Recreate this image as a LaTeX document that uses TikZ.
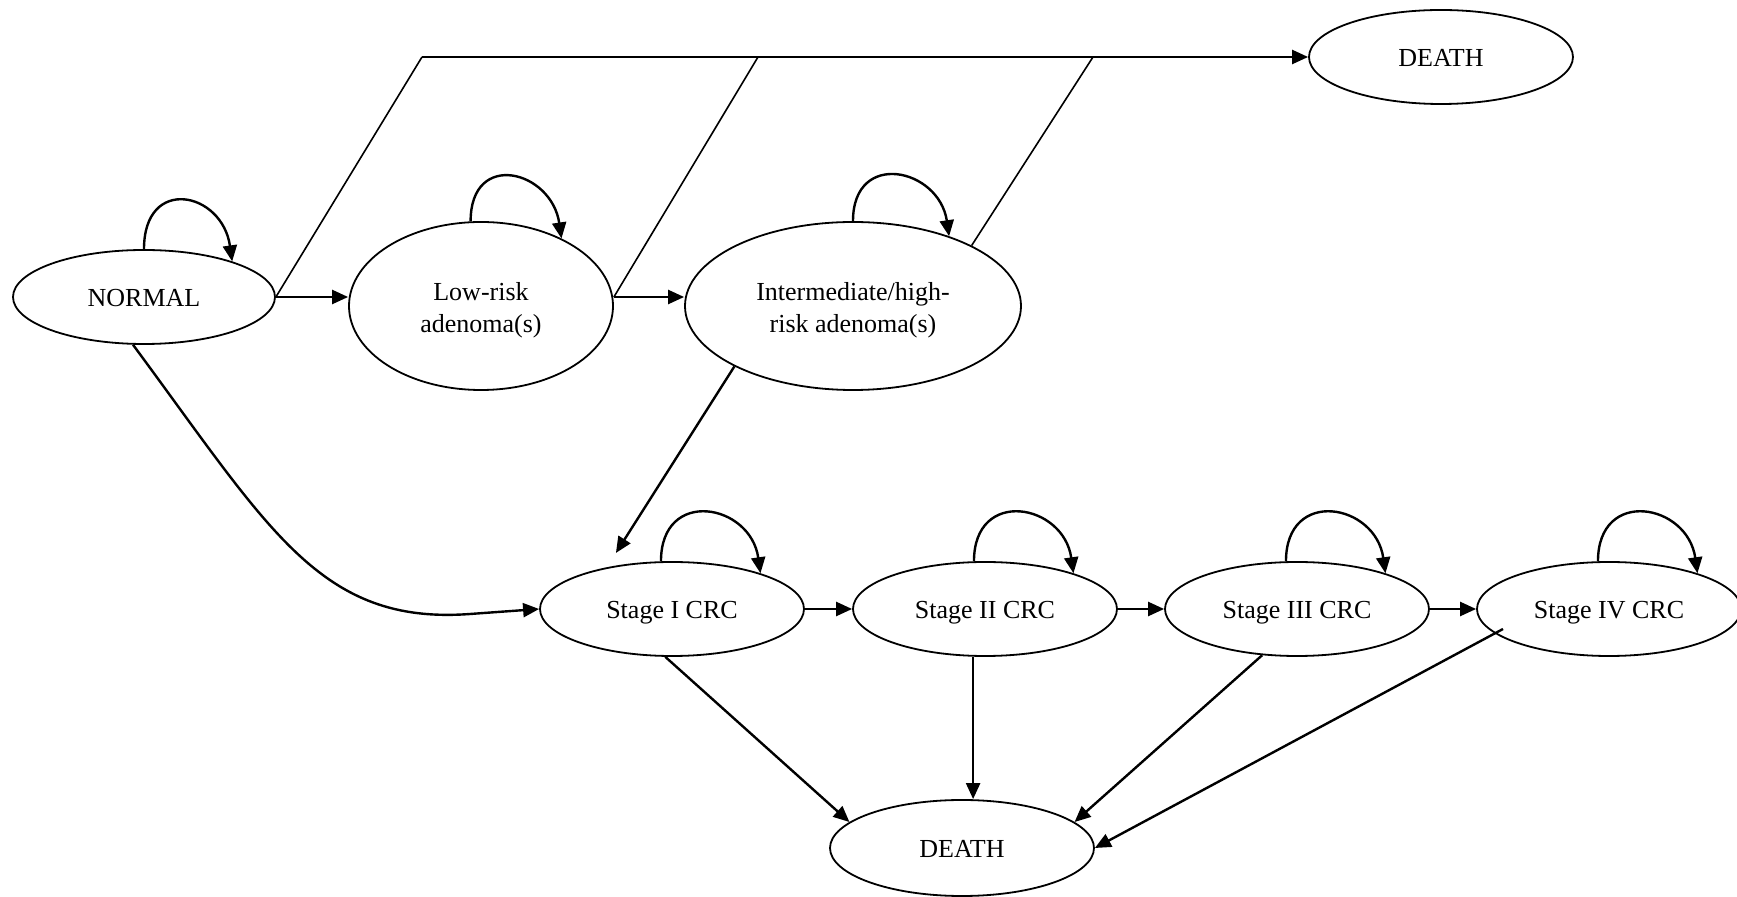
\documentclass[tikz,border=0pt]{standalone}
\usepackage{fontspec}
\setmainfont{Liberation Serif}
\usetikzlibrary{shapes.geometric,arrows.meta,calc}
\newcommand{\twolines}[2]{\raisebox{-2pt}[\height][\depth]{\begin{tabular}{@{}c@{}}#1\\#2\end{tabular}}}
\begin{document}
\begin{tikzpicture}[x=0.5pt,y=-0.5pt,
  state/.style={ellipse,draw,line width=0.9pt,inner sep=0pt,font=\fontsize{13pt}{16pt}\selectfont},
  smallstate/.style={state,minimum width=132pt,minimum height=47pt,text height=10.4pt,text depth=0.4pt},
  bigstate/.style={state,minimum width=132pt,minimum height=84pt},
  arr/.style={line width=1.2pt,-{Triangle[length=8pt,width=7pt]}},
  thinline/.style={line width=0.8pt}]
\useasboundingbox (0,0) rectangle (1737,897);
% nodes
\node[smallstate,minimum width=131pt] (normal) at (144,297) {NORMAL};
\node[bigstate] (low) at (481,306) {\twolines{Low-risk}{adenoma(s)}};
\node[bigstate,minimum width=168pt] (inter) at (853,306) {\twolines{Intermediate/high-}{risk adenoma(s)}};
\node[smallstate] (topD) at (1441,57) {DEATH};
\node[smallstate] (s1) at (672,609) {Stage I CRC};
\node[smallstate] (s2) at (985,609) {Stage II CRC};
\node[smallstate] (s3) at (1297,609) {Stage III CRC};
\node[smallstate] (s4) at (1609,609) {Stage IV CRC};
\node[smallstate,minimum height=48pt] (botD) at (962,848) {DEATH};
% coordinates
\coordinate (c1) at (422,57);
\coordinate (c2) at (758,57);
\coordinate (c3) at (1093,57);
\coordinate (bend) at (470,614);
\coordinate (s4in) at ($(s4)+(-106,20)$);
% self loops
\draw[arr] (normal.north) .. controls +(0,-74) and +(-10,-70) .. (normal.22);
\draw[arr] (low.97) .. controls +(0,-72) and +(-10,-68) .. (low.40);
\draw[arr] (inter.north) .. controls +(0,-72) and +(-10,-68) .. (inter.36);
\draw[arr] (s1.103) .. controls +(0,-74) and +(-10,-70) .. (s1.22);
\draw[arr] (s2.103) .. controls +(0,-74) and +(-10,-70) .. (s2.22);
\draw[arr] (s3.103) .. controls +(0,-74) and +(-10,-70) .. (s3.22);
\draw[arr] (s4.103) .. controls +(0,-74) and +(-10,-70) .. (s4.22);
% transitions to top DEATH
\draw[thinline] (normal.east) -- (c1);
\draw[thinline] (low.east |- normal.east) -- (c2);
\draw[thinline] (inter.27) -- (c3);
\draw[arr] (c1) -- (topD.west);
% horizontal progressions
\draw[arr] (normal.east) -- (normal.east -| low.west);
\draw[arr] (low.east |- normal.east) -- (normal.east -| inter.west);
\draw[arr] (s1.east) -- (s2.west);
\draw[arr] (s2.east) -- (s3.west);
\draw[arr] (s3.east) -- (s4.west);
% to Stage I
\draw[arr] (inter.207) -- ($(s1.135)+(-11,-11)$);
\draw[arr] (normal.257) .. controls (270,530) and (320,625) .. (bend) -- (s1.west);
% to bottom DEATH
\draw[arr] (s1.262) -- (botD.167);
\draw[arr] (s2.256) -- (s2.256 |- botD.north);
\draw[arr] (s3.233) -- (botD.13);
\draw[arr] (s4in) -- (botD.east);
\end{tikzpicture}
\end{document}
